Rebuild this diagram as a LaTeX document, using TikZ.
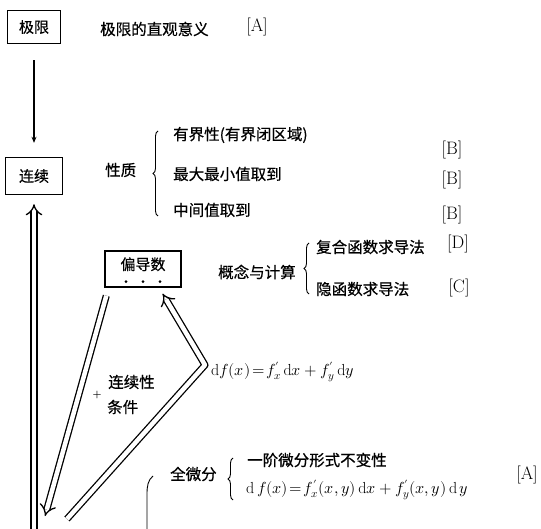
\documentclass[tikz,border=0pt]{standalone}
\usepackage{fontspec}
\usepackage{unicode-math}
\newfontfamily\cjk{Noto Sans CJK SC}[FakeBold=0.6]
\usetikzlibrary{arrows.meta,positioning,decorations.pathreplacing,calc}
\tikzset{
    topicbox/.style={draw, line width=1.4pt, font=\cjk\fontsize{15}{17}\selectfont,
        inner sep=0pt},
    itemtext/.style={font=\cjk\fontsize{15.5}{18}\selectfont, anchor=west, inner sep=0pt},
    grade/.style={font=\fontsize{18}{20}\selectfont, inner sep=0pt},
    formula/.style={font=\fontsize{16}{18}\selectfont, anchor=west, inner sep=0pt},
    dblarrow/.style={double, double distance=4.5pt, line width=1.3pt, line join=round,
        -{Implies}},
    leftbrace/.style={decorate, decoration={brace, amplitude=5pt}, line width=0.9pt}
}

\begin{document}
\begin{tikzpicture}[x=1pt, y=-1pt]
\useasboundingbox (0,0) rectangle (541,529);
% main boxes
\node[topicbox, minimum width=53pt, minimum height=33pt] (jixian) at (34,27) {极限};
\node[topicbox, minimum width=57pt, minimum height=37pt] (lianxu) at (34,176) {连续};
\node[topicbox, minimum width=76pt, text height=15pt, text depth=13pt, inner ysep=4pt,
    minimum height=36pt] (pdx) at (143,269) {偏导数};
\foreach \dx in {-17,0,17}
    \fill ($(pdx.south)+(\dx,-6)$) circle (1.5pt);

% limit
\node[itemtext] (jxmeaning) at (100,29) {极限的直观意义};
\node[grade] (gjx) at (257,27) {[A]};

% continuity
\node[itemtext] (xingzhi) at (105,170) {性质};
\draw[leftbrace] (158,216) -- (158,131);
\node[itemtext] (bounded) at (173,135) {有界性(有界闭区域)};
\node[itemtext] (maxmin) at (173,174) {最大最小值取到};
\node[itemtext] (ivt) at (173,210) {中间值取到};
\node[grade] (gbd) at (452,150) {[B]};
\node[grade] (gmm) at (452,180) {[B]};
\node[grade] (giv) at (452,215) {[B]};

% partial derivative
\node[itemtext] (gainian) at (218,272) {概念与计算};
\node[itemtext] (fuhe) at (316,247) {复合函数求导法};
\node[itemtext] (yinhan) at (316,289) {隐函数求导法};
\draw[leftbrace] (309,294) -- (309,243);
\node[grade] (gfh) at (458,244) {[D]};
\node[grade] (gyh) at (459,288) {[C]};

% condition
\node (plus) at (97,395) {\bfseries +};
\node[itemtext] (lxx) at (108,382) {连续性};
\node[itemtext] (tiaojian) at (107,407) {条件};
\node[formula] (dfone) at (211,372) {$\mathrm{d}f(x)\!=\!f_x'\,\mathrm{d}x+f_y'\,\mathrm{d}y$};

% total differential
\node[itemtext] (quanwf) at (170,474) {全微分};
\draw[leftbrace] (233,500) -- (233,458);
\node[itemtext] (yijie) at (247,460) {一阶微分形式不变性};
\node[formula] (dftwo) at (246,490)
    {$\mathrm{d}\,f(x)\!=\!f_x'(x,y)\,\mathrm{d}x+f_y'(x,y)\,\mathrm{d}\,y$};
\node[grade] (gqw) at (527,475) {[A]};
\draw[line width=0.9pt] (153,476) .. controls (148,480) and (147,486) .. (147,494) -- (147,535);

% connectors
\coordinate (bottomin) at (34,540);
\coordinate (ltip) at (45,516);
\coordinate (rfoot) at (67,519);
\coordinate (rbend) at (205,365);
\draw[-{Stealth[length=6pt,width=5pt]}, line width=1.3pt, shorten <=16pt, shorten >=14pt]
    (jixian) -- (lianxu);
\draw[dblarrow, shorten >=9pt] (bottomin) -- (lianxu);
\draw[dblarrow] ([xshift=2pt,yshift=-8pt]pdx.south west) -- (ltip);
\draw[dblarrow] (rfoot) -- (rbend) -- ([xshift=-19pt,yshift=-6pt]pdx.south east);
\end{tikzpicture}
\end{document}
